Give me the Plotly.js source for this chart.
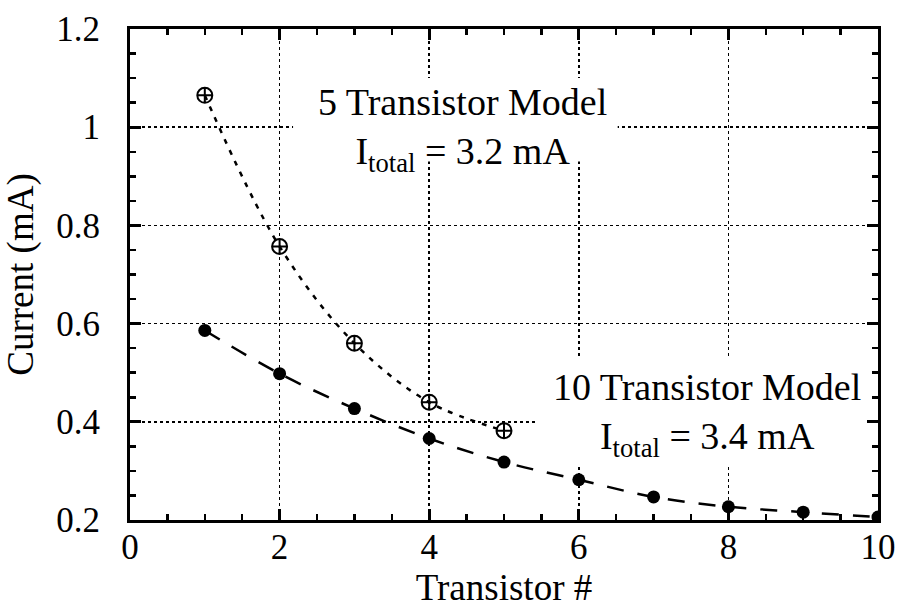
<!DOCTYPE html>
<html>
<head>
<meta charset="utf-8">
<script src="https://cdn.plot.ly/plotly-3.0.1.min.js"></script>
<style>html,body{margin:0;padding:0;background:#fff;}#chart{width:897px;height:614px;}</style>
</head>
<body>
<div id="chart"></div>
<script>
// Data
const transistors5 = [1, 2, 3, 4, 5];
const current5 = [1.065, 0.757, 0.560, 0.440, 0.382];
const transistors10 = [1, 2, 3, 4, 5, 6, 7, 8, 9, 10];
const current10 = [0.586, 0.498, 0.427, 0.366, 0.318, 0.282, 0.247, 0.227, 0.216, 0.206];
const label5 = ['5 Transistor Model', 'I<sub>total</sub> = 3.2 mA'];
const label10 = ['10 Transistor Model', 'I<sub>total</sub> = 3.4 mA'];

const FONT = 'Liberation Serif, Times New Roman, serif';

const traces = [
  {
    x: transistors5, y: current5, type: 'scatter', mode: 'lines+markers',
    line: {color: '#000', width: 2.5, dash: '5px,7px', shape: 'spline', smoothing: 1},
    marker: {symbol: 'circle-cross-open', size: 15, color: '#000', line: {width: 2, color: '#000'}},
    showlegend: false
  },
  {
    x: transistors10, y: current10, type: 'scatter', mode: 'lines+markers',
    line: {color: '#000', width: 2.5, dash: '17px,14px', shape: 'spline', smoothing: 1},
    marker: {symbol: 'circle', size: 13, color: '#000'},
    showlegend: false
  }
];

const axisCommon = {
  showline: true, linecolor: '#000', linewidth: 3, mirror: 'ticks',
  ticks: 'inside', ticklen: 11, tickwidth: 3, tickcolor: '#000',
  showgrid: true, gridcolor: '#000', gridwidth: 1.5, griddash: 'dot',
  zeroline: false,
  tickfont: {family: FONT, size: 35, color: '#000'}
};

const layout = {
  width: 897, height: 614,
  paper_bgcolor: '#fff', plot_bgcolor: '#fff',
  margin: {l: 130, r: 19, t: 29, b: 94},
  font: {family: FONT, color: '#000'},
  xaxis: Object.assign({}, axisCommon, {
    range: [0, 10], dtick: 2, tick0: 0,
    minor: {dtick: 0.5, ticks: 'inside', ticklen: 6, tickwidth: 2.5, tickcolor: '#000', showgrid: false},
    ticklabelstandoff: -6,
    title: {text: 'Transistor #', font: {family: FONT, size: 37, color: '#000'}, standoff: 2}
  }),
  yaxis: Object.assign({}, axisCommon, {
    range: [0.2, 1.2], dtick: 0.2, tick0: 0.2,
    minor: {dtick: 0.05, ticks: 'inside', ticklen: 6, tickwidth: 2.5, tickcolor: '#000', showgrid: false},
    ticklabelstandoff: 20,
    title: {text: 'Current (mA)', font: {family: FONT, size: 37, color: '#000'}, standoff: 14}
  }),
  shapes: [
    {type: 'rect', xref: 'x', yref: 'y', x0: 2.18, x1: 6.52, y0: 0.93, y1: 1.10,
     fillcolor: '#fff', line: {width: 0}, layer: 'between'},
    {type: 'rect', xref: 'x', yref: 'y', x0: 5.44, x1: 9.97, y0: 0.312, y1: 0.532,
     fillcolor: '#fff', line: {width: 0}, layer: 'between'}
  ],
  annotations: [
    {x: 4.45, y: 0.995, xref: 'x', yref: 'y', text: label5.join('<br>'), showarrow: false,
     font: {family: FONT, size: 38, color: '#000'}, align: 'center', xanchor: 'center', yanchor: 'middle'},
    {x: 7.72, y: 0.415, xref: 'x', yref: 'y', text: label10.join('<br>'), showarrow: false,
     font: {family: FONT, size: 38, color: '#000'}, align: 'center', xanchor: 'center', yanchor: 'middle'}
  ]
};

Plotly.newPlot('chart', traces, layout, {displayModeBar: false, staticPlot: true});
</script>
</body>
</html>
